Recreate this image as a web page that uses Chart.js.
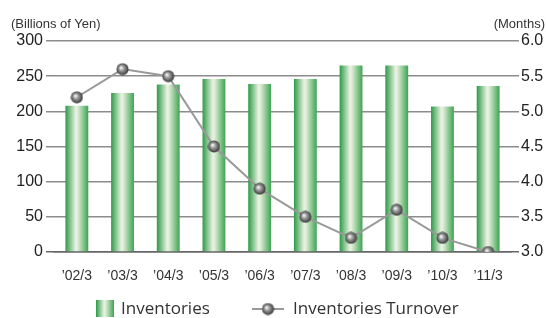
<!DOCTYPE html>
<html>
<head>
<meta charset="utf-8">
<script src="https://cdn.jsdelivr.net/npm/chart.js@4"></script>
<style>
  body { margin: 0; background: #fff; }
  #wrap { position: relative; width: 546px; height: 318px; font-family: "Liberation Sans", Arial, sans-serif; color: #333; }
  #chart { position: absolute; left: 0; top: 0; }
  .unit { position: absolute; top: 16px; font-size: 13px; color: #333; }
  #legend { position: absolute; top: 297px; left: 0; width: 546px; height: 22px; font-family: "Open Sans", sans-serif; font-size: 17px; color: #333; }
  .lg { position: absolute; top: 0; line-height: 22px; }
  .lg canvas { position: absolute; top: 0; }
</style>
</head>
<body>
<div id="wrap">
  <canvas id="chart" width="546" height="318"></canvas>
  <div class="unit" style="left:11px">(Billions of Yen)</div>
  <div class="unit" style="right:1px">(Months)</div>
  <div id="legend">
    <div class="lg" style="left:96px"><canvas id="swBar" width="18" height="22"></canvas><span style="margin-left:25px">Inventories</span></div>
    <div class="lg" style="left:252px"><canvas id="swLine" width="32" height="22"></canvas><span style="margin-left:41px">Inventories Turnover</span></div>
  </div>
</div>
<script>
var years = ["\u201902/3", "\u201903/3", "\u201904/3", "\u201905/3", "\u201906/3", "\u201907/3", "\u201908/3", "\u201909/3", "\u201910/3", "\u201911/3"];
var inventories = [208, 226, 238, 246, 239, 246, 265, 265, 207, 236];
var turnover = [5.2, 5.6, 5.5, 4.5, 3.9, 3.5, 3.2, 3.6, 3.2, 3.0];

// sphere marker
function makeBall(size) {
  var c = document.createElement("canvas");
  c.width = size; c.height = size;
  var g = c.getContext("2d");
  var r = size / 2;
  var grd = g.createRadialGradient(r - 1.5, r - 1.5, 0.5, r, r, r);
  grd.addColorStop(0, "#f4f4f4");
  grd.addColorStop(0.35, "#9c9c9c");
  grd.addColorStop(1, "#2b2b2b");
  g.fillStyle = grd;
  g.beginPath();
  g.arc(r, r, r - 0.5, 0, Math.PI * 2);
  g.fill();
  return c;
}
var ball = makeBall(13);

function barGradient(ctx, x0, x1) {
  var grd = ctx.createLinearGradient(x0, 0, x1, 0);
  grd.addColorStop(0, "#2c9a46");
  grd.addColorStop(0.45, "#e9f2e2");
  grd.addColorStop(0.52, "#e2eed9");
  grd.addColorStop(1, "#3da452");
  return grd;
}

// legend swatches
var sb = document.getElementById("swBar").getContext("2d");
sb.fillStyle = barGradient(sb, 0, 18);
sb.fillRect(0, 3, 18, 17);
var sl = document.getElementById("swLine").getContext("2d");
sl.strokeStyle = "#999"; sl.lineWidth = 2;
sl.beginPath(); sl.moveTo(0, 12); sl.lineTo(32, 12); sl.stroke();
sl.drawImage(ball, 16 - 6.5, 12 - 6.5);

var ctx = document.getElementById("chart").getContext("2d");
new Chart(ctx, {
  data: {
    labels: years,
    datasets: [{
      type: "line",
      label: "Inventories Turnover",
      data: turnover,
      yAxisID: "y2",
      borderColor: "#999",
      borderWidth: 2,
      pointStyle: ball,
      pointRadius: 6,
      tension: 0,
      order: 0
    }, {
      type: "bar",
      label: "Inventories",
      data: inventories,
      yAxisID: "y",
      barPercentage: 0.5,
      categoryPercentage: 1,
      backgroundColor: function(c) {
        var chart = c.chart;
        if (!chart.chartArea || !chart.scales.x) return "#5cb56a";
        var xs = chart.scales.x;
        var cx = xs.getPixelForValue(c.dataIndex);
        var w = (xs.width / years.length) * 0.5;
        return barGradient(chart.ctx, cx - w / 2, cx + w / 2);
      },
      order: 1
    }]
  },
  options: {
    responsive: false,
    animation: false,
    layout: { padding: { top: 41, bottom: 0, left: 0, right: 0 } },
    plugins: { legend: { display: false }, tooltip: { enabled: false } },
    scales: {
      x: {
        grid: { display: false },
        border: { display: true, color: "#666", width: 1.5 },
        ticks: { color: "#333", font: { family: "Liberation Sans", size: 14 }, padding: 8 },
        afterFit: function(s) { s.height = 66; }
      },
      y: {
        position: "left",
        min: 0, max: 300,
        ticks: { stepSize: 50, color: "#222", font: { family: "Liberation Sans", size: 16 }, padding: 3 },
        grid: {
          color: function(c) { return c.tick && c.tick.value === 0 ? "#666" : "#8c8c8c"; },
          lineWidth: 1.5,
          tickLength: 8
        },
        border: { display: false },
        afterFit: function(s) { s.width = 54; }
      },
      y2: {
        position: "right",
        min: 3.0, max: 6.0,
        ticks: {
          stepSize: 0.5, color: "#222", font: { family: "Liberation Sans", size: 16 }, padding: 2,
          callback: function(v) { return v.toFixed(1); }
        },
        grid: {
          drawOnChartArea: false,
          color: function(c) { return c.tick && c.tick.value === 3 ? "#666" : "#8c8c8c"; },
          lineWidth: 1.5,
          tickLength: 8
        },
        border: { display: false },
        afterFit: function(s) { s.width = 35; }
      }
    }
  }
});
</script>
</body>
</html>
